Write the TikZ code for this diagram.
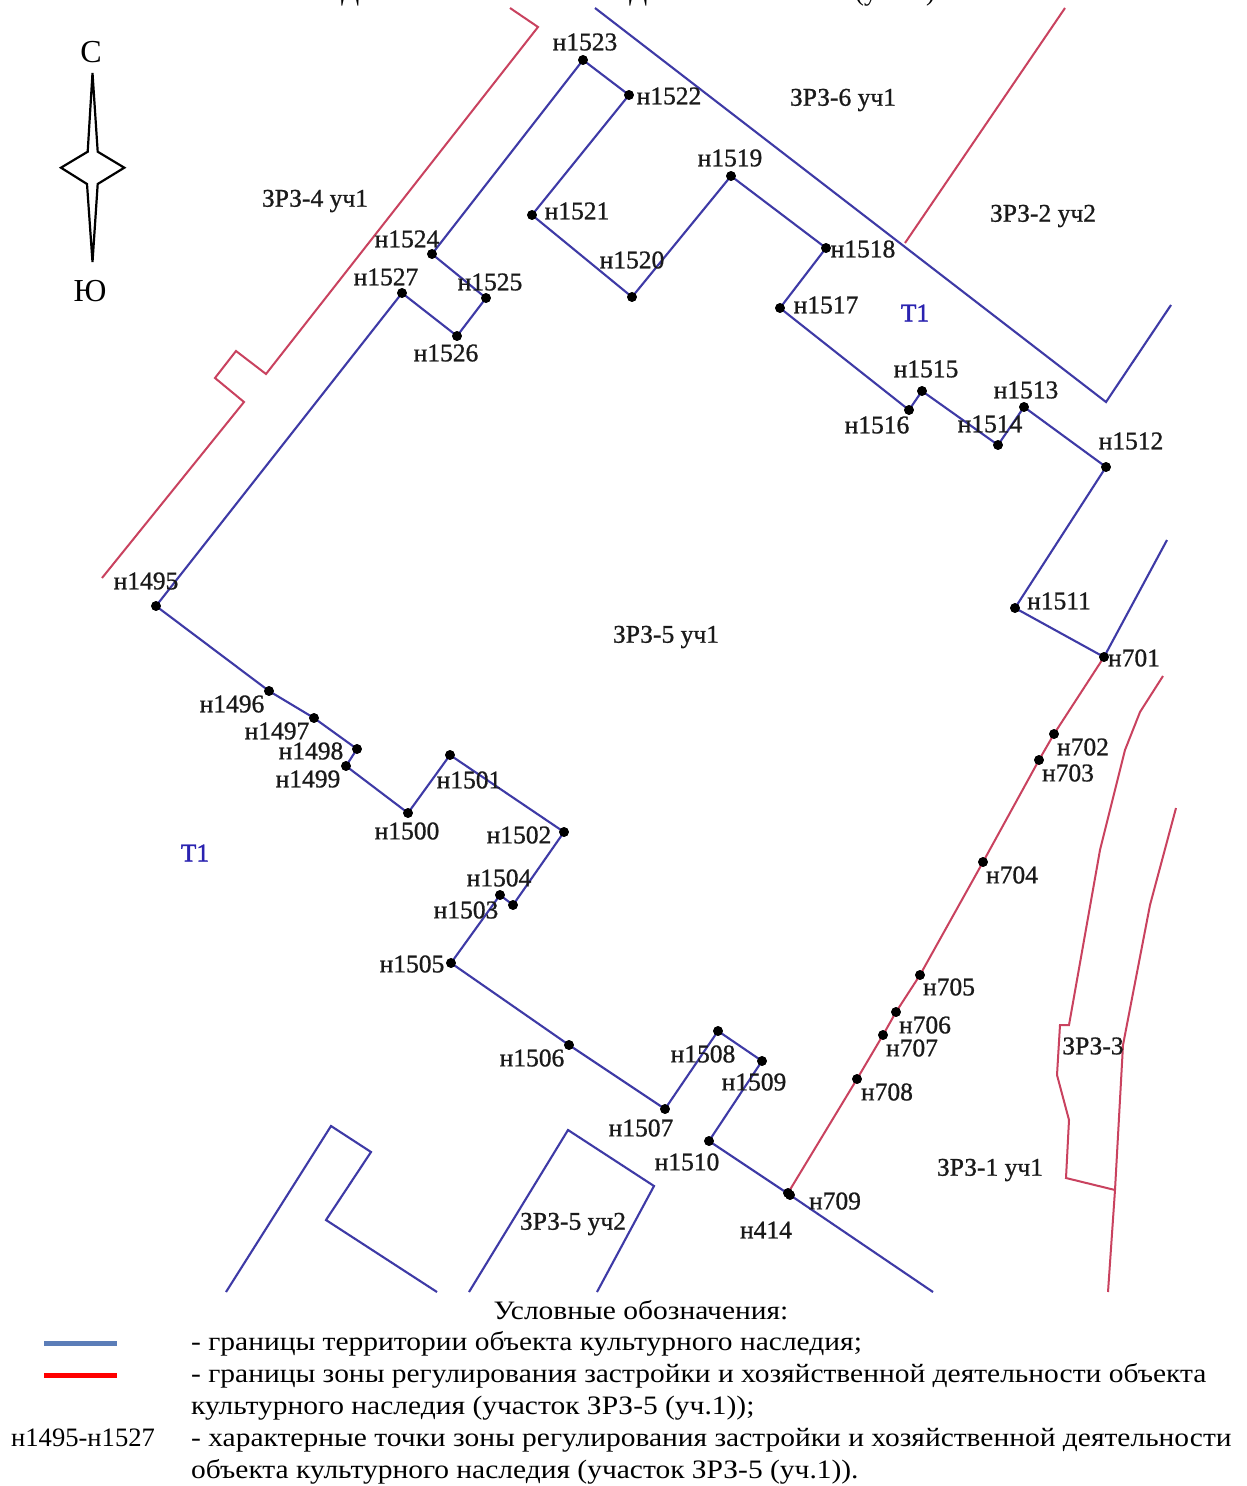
\documentclass[tikz,border=0pt]{standalone}
\usepackage{fontspec}
\setmainfont{Liberation Serif}
\newfontfamily\maplbl[FakeBold=0.9]{Liberation Serif}
\newfontfamily\tlbl[FakeBold=1.6]{Liberation Serif}
\newfontfamily\legfont[FakeStretch=1.108]{Liberation Serif}
\definecolor{bndblue}{HTML}{3E3AA6}
\definecolor{bndred}{HTML}{C9425F}
\definecolor{tblue}{HTML}{2A22B0}
\definecolor{legblue}{HTML}{5B7DB8}
\definecolor{txt}{HTML}{1A1A1A}
\tikzset{
  dot/.style={circle,fill=black,draw=none,inner sep=0pt,minimum size=9.5pt},
  lbl/.style={inner sep=0pt,text=txt,font=\maplbl\fontsize{25.5}{26}\selectfont},
  zone/.style={inner sep=0pt,text=txt,font=\maplbl\fontsize{25.5}{26}\selectfont},
  tzone/.style={inner sep=0pt,text=tblue,font=\tlbl\fontsize{25.5}{26}\selectfont},
  blueln/.style={draw=bndblue,line width=2.1pt,line join=miter},
  redln/.style={draw=bndred,line width=2pt,line join=miter},
  legtxt/.style={inner sep=0pt,anchor=base west,text=black,font=\legfont\fontsize{26.6}{27}\selectfont},
  legnum/.style={inner sep=0pt,anchor=base west,text=black,font=\fontsize{26.6}{27}\selectfont},
  comp/.style={draw=black,line width=2.2pt,fill=white,line join=miter},
  comptxt/.style={inner sep=0pt,text=black,font=\fontsize{32}{32}\selectfont},
  topcut/.style={inner sep=0pt,anchor=base west,text=black,font=\fontsize{26.6}{27}\selectfont}
}
\begin{document}
\begin{tikzpicture}[x=1pt,y=-1pt]
\useasboundingbox (0,0) rectangle (1247,1486);
\fill[white] (0,0) rectangle (1247,1486);
% fragments of the cut-off heading
\begin{scope}
\clip (0,0) rectangle (1247,6);
\node[topcut] (h1) at (341,0) {Д};
\node[topcut] (h2) at (629,0) {Д};
\node[topcut] (h3) at (855,0) {(у};
\node[topcut] (h4) at (926,0) {)};
\end{scope}
% free ends
\coordinate (r1) at (510,8);
\coordinate (r2) at (538,27);
\coordinate (r3) at (266,374);
\coordinate (r4) at (236,351);
\coordinate (r5) at (215,378);
\coordinate (r6) at (244,402);
\coordinate (r7) at (102,578);
\coordinate (r8) at (1065,8);
\coordinate (r9) at (905,243);
\coordinate (a1) at (1163,676);
\coordinate (a2) at (1140,712);
\coordinate (a3) at (1125,750);
\coordinate (a4) at (1100,850);
\coordinate (a5) at (1069,1025);
\coordinate (a6) at (1060,1025);
\coordinate (a7) at (1057,1075);
\coordinate (a8) at (1069,1120);
\coordinate (a9) at (1066,1178);
\coordinate (a10) at (1115,1190);
\coordinate (b1) at (1176,808);
\coordinate (b2) at (1150,905);
\coordinate (b3) at (1123,1045);
\coordinate (b4) at (1108,1292);
\coordinate (c1) at (595,8);
\coordinate (c2) at (1106,402);
\coordinate (c3) at (1171,305);
\coordinate (c4) at (1167,540);
\coordinate (c5) at (933,1292);
\coordinate (d1) at (226,1292);
\coordinate (d2) at (331,1126);
\coordinate (d3) at (371,1152);
\coordinate (d4) at (326,1220);
\coordinate (d5) at (437,1292);
\coordinate (e1) at (469,1292);
\coordinate (e2) at (568,1130);
\coordinate (e3) at (654,1186);
\coordinate (e4) at (597,1292);
% points
\node[dot] (n1495) at (156,606) {};
\node[dot] (n1496) at (269,691) {};
\node[dot] (n1497) at (314,718) {};
\node[dot] (n1498) at (357,749) {};
\node[dot] (n1499) at (346,766) {};
\node[dot] (n1500) at (408,813) {};
\node[dot] (n1501) at (450,755) {};
\node[dot] (n1502) at (564,832) {};
\node[dot] (n1503) at (513,905) {};
\node[dot] (n1504) at (500,895) {};
\node[dot] (n1505) at (451,963) {};
\node[dot] (n1506) at (569,1045) {};
\node[dot] (n1507) at (665,1109) {};
\node[dot] (n1508) at (718,1031) {};
\node[dot] (n1509) at (762,1061) {};
\node[dot] (n1510) at (709,1141) {};
\node[dot] (n1511) at (1015,608) {};
\node[dot] (n1512) at (1106,467) {};
\node[dot] (n1513) at (1024,407) {};
\node[dot] (n1514) at (998,445) {};
\node[dot] (n1515) at (922,391) {};
\node[dot] (n1516) at (909,410) {};
\node[dot] (n1517) at (780,308) {};
\node[dot] (n1518) at (826,248) {};
\node[dot] (n1519) at (731,176) {};
\node[dot] (n1520) at (632,297) {};
\node[dot] (n1521) at (532,215) {};
\node[dot] (n1522) at (629,95) {};
\node[dot] (n1523) at (583,60) {};
\node[dot] (n1524) at (432,254) {};
\node[dot] (n1525) at (486,298) {};
\node[dot] (n1526) at (457,336) {};
\node[dot] (n1527) at (402,293) {};
\node[dot] (n701) at (1104,657) {};
\node[dot] (n702) at (1054,734) {};
\node[dot] (n703) at (1039,760) {};
\node[dot] (n704) at (983,862) {};
\node[dot] (n705) at (920,975) {};
\node[dot] (n706) at (896,1012) {};
\node[dot] (n707) at (883,1035) {};
\node[dot] (n708) at (857,1079) {};
\node[dot] (n709) at (788,1193) {};
\node[dot] (n414) at (790,1195) {};
% red boundaries
\draw[redln] (r1)--(r2)--(r3)--(r4)--(r5)--(r6)--(r7);
\draw[redln] (r8)--(r9);
\draw[redln] (a1)--(a2)--(a3)--(a4)--(a5)--(a6)--(a7)--(a8)--(a9)--(a10);
\draw[redln] (b1)--(b2)--(b3)--(a10)--(b4);
\draw[redln] (n701.center)--(n702.center);
\draw[redln] (n702.center)--(n703.center)--(n704.center)--(n705.center)--(n706.center)--(n707.center)--(n708.center)--(n709.center);
% blue boundaries
\draw[blueln] (n1495.center)--(n1496.center)--(n1497.center)--(n1498.center)--(n1499.center)--(n1500.center)--(n1501.center)--(n1502.center)--(n1503.center)--(n1504.center)--(n1505.center)--(n1506.center)--(n1507.center)--(n1508.center)--(n1509.center)--(n1510.center)--(n414.center)--(c5);
\draw[blueln] (n701.center)--(n1511.center)--(n1512.center)--(n1513.center)--(n1514.center)--(n1515.center)--(n1516.center)--(n1517.center)--(n1518.center)--(n1519.center)--(n1520.center)--(n1521.center)--(n1522.center)--(n1523.center)--(n1524.center)--(n1525.center)--(n1526.center)--(n1527.center)--(n1495.center);
\draw[blueln] (n701.center)--(c4);
\draw[blueln] (c1)--(c2)--(c3);
\draw[blueln] (d1)--(d2)--(d3)--(d4)--(d5);
\draw[blueln] (e1)--(e2)--(e3)--(e4);
% redraw dots above the lines
\foreach \m in {1495,1496,1497,1498,1499,1500,1501,1502,1503,1504,1505,1506,1507,1508,1509,1510,1511,1512,1513,1514,1515,1516,1517,1518,1519,1520,1521,1522,1523,1524,1525,1526,1527,701,702,703,704,705,706,707,708,709,414}
  \fill[black] (n\m) circle[radius=4.9pt];
% point labels
\node[lbl] (t1495) at (146,581) {н1495};
\node[lbl] (t1496) at (232,704) {н1496};
\node[lbl] (t1497) at (277,731) {н1497};
\node[lbl] (t1498) at (311,751) {н1498};
\node[lbl] (t1499) at (308,779) {н1499};
\node[lbl] (t1500) at (407,831) {н1500};
\node[lbl] (t1501) at (469,780) {н1501};
\node[lbl] (t1502) at (519,835) {н1502};
\node[lbl] (t1503) at (466,910) {н1503};
\node[lbl] (t1504) at (499,878) {н1504};
\node[lbl] (t1505) at (412,964) {н1505};
\node[lbl] (t1506) at (532,1058) {н1506};
\node[lbl] (t1507) at (641,1128) {н1507};
\node[lbl] (t1508) at (703,1054) {н1508};
\node[lbl] (t1509) at (754,1082) {н1509};
\node[lbl] (t1510) at (687,1162) {н1510};
\node[lbl] (t1511) at (1059,601) {н1511};
\node[lbl] (t1512) at (1131,441) {н1512};
\node[lbl] (t1513) at (1026,390) {н1513};
\node[lbl] (t1514) at (990,424) {н1514};
\node[lbl] (t1515) at (926,369) {н1515};
\node[lbl] (t1516) at (877,425) {н1516};
\node[lbl] (t1517) at (826,305) {н1517};
\node[lbl] (t1518) at (863,249) {н1518};
\node[lbl] (t1519) at (730,158) {н1519};
\node[lbl] (t1520) at (632,260) {н1520};
\node[lbl] (t1521) at (577,211) {н1521};
\node[lbl] (t1522) at (669,96) {н1522};
\node[lbl] (t1523) at (585,42) {н1523};
\node[lbl] (t1524) at (407,239) {н1524};
\node[lbl] (t1525) at (490,282) {н1525};
\node[lbl] (t1526) at (446,353) {н1526};
\node[lbl] (t1527) at (386,277) {н1527};
\node[lbl] (t701) at (1134,658) {н701};
\node[lbl] (t702) at (1083,747) {н702};
\node[lbl] (t703) at (1068,773) {н703};
\node[lbl] (t704) at (1012,875) {н704};
\node[lbl] (t705) at (949,987) {н705};
\node[lbl] (t706) at (925,1025) {н706};
\node[lbl] (t707) at (912,1048) {н707};
\node[lbl] (t708) at (887,1092) {н708};
\node[lbl] (t709) at (835,1201) {н709};
\node[lbl] (t414) at (766,1230) {н414};
% zones
\node[zone] (z1) at (843,100) {ЗРЗ-6 уч1};
\node[zone] (z2) at (1043,216) {ЗРЗ-2 уч2};
\node[zone] (z3) at (315,201) {ЗРЗ-4 уч1};
\node[zone] (z4) at (666,637) {ЗРЗ-5 уч1};
\node[zone] (z5) at (1093,1046) {ЗРЗ-3};
\node[zone] (z6) at (990,1170) {ЗРЗ-1 уч1};
\node[zone] (z7) at (573,1224) {ЗРЗ-5 уч2};
\node[tzone] (t1) at (915,313) {Т1};
\node[tzone] (t2) at (195,853) {Т1};
% compass
\node[comptxt] (north) at (91,52) {С};
\node[comptxt] (south) at (90,291) {Ю};
\coordinate (k1) at (92.5,73);
\coordinate (k2) at (97.7,151.7);
\coordinate (k3) at (124.3,167.7);
\coordinate (k4) at (97.7,184);
\coordinate (k5) at (92.5,262);
\coordinate (k6) at (87,184);
\coordinate (k7) at (61,167.7);
\coordinate (k8) at (87.7,151.7);
\draw[comp] (k1)--(k2)--(k3)--(k4)--(k5)--(k6)--(k7)--(k8)--cycle;
% legend
\node[inner sep=0pt,text=black,font=\legfont\fontsize{26.6}{27}\selectfont] (lt) at (641,1310) {Условные обозначения:};
\coordinate (lb1) at (44,1343);
\coordinate (lb2) at (117,1343);
\coordinate (lr1) at (44,1375);
\coordinate (lr2) at (117,1375);
\draw[draw=legblue,line width=5pt] (lb1)--(lb2);
\draw[draw=red,line width=5pt] (lr1)--(lr2);
\node[legtxt] (l1) at (191,1350) {- границы территории объекта культурного наследия;};
\node[legtxt] (l2) at (191,1382) {- границы зоны регулирования застройки и хозяйственной деятельности объекта};
\node[legtxt] (l3) at (191,1414) {культурного наследия (участок ЗРЗ-5 (уч.1));};
\node[legnum] (l4) at (11,1446) {н1495-н1527};
\node[legtxt] (l5) at (191,1446) {- характерные точки зоны регулирования застройки и хозяйственной деятельности};
\node[legtxt] (l6) at (191,1478) {объекта культурного наследия (участок ЗРЗ-5 (уч.1)).};
\end{tikzpicture}
\end{document}
